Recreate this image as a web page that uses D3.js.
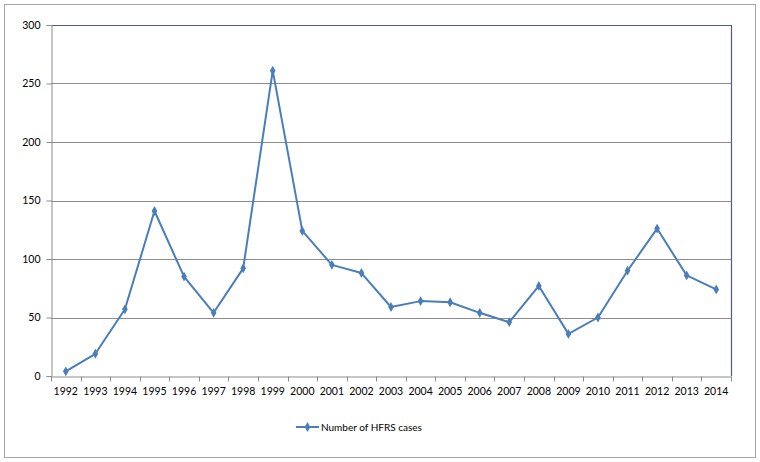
<!DOCTYPE html>
<html><head><meta charset="utf-8">
<script src="https://cdn.jsdelivr.net/npm/d3@7"></script>
<style>body{margin:0;background:#fff}svg{display:block}</style>
</head><body><div id="chart"></div>
<script>
const years = ["1992","1993","1994","1995","1996","1997","1998","1999","2000","2001","2002","2003","2004","2005","2006","2007","2008","2009","2010","2011","2012","2013","2014"];
const cases = [4,19,57,141,85,54,92,261,124,95,88,59,64,63,54,46,77,36,50,90,126,86,74];
const yTicks = [0,50,100,150,200,250,300];
const seriesName = "Number of HFRS cases";

const W=760,H=462;
const m={left:51,right:29,top:25,bottom:86};
const font="Lato, 'Open Sans', sans-serif";
const svg=d3.select("#chart").append("svg").attr("width",W).attr("height",H);
svg.append("rect").attr("x",4.5).attr("y",4.5).attr("width",751).attr("height",453)
  .attr("fill","#fff").attr("stroke","#a6a6a6").attr("stroke-width",1);

const x=d3.scaleBand().domain(years).range([m.left,W-m.right]);
const y=d3.scaleLinear().domain([0,300]).range([H-m.bottom,m.top]);

const g=svg.append("g");
g.selectAll("line.grid").data(yTicks.filter(d=>d>0&&d<300)).join("line")
  .attr("x1",m.left).attr("x2",W-m.right)
  .attr("y1",d=>Math.round(y(d))+0.5).attr("y2",d=>Math.round(y(d))+0.5)
  .attr("stroke","#8c8c8c").attr("stroke-width",1);
g.append("path")
  .attr("d",`M${m.left},${Math.round(y(300))+0.5}H${W-m.right+0.5}V${Math.round(y(0))}`)
  .attr("fill","none").attr("stroke","#4e5d80").attr("stroke-width",1.2);

const ya=svg.append("g").attr("transform",`translate(${m.left+0.5},0)`)
  .call(d3.axisLeft(y).tickValues(yTicks).tickSize(5).tickPadding(6));
ya.select(".domain").attr("stroke","#8c8c8c");
ya.selectAll(".tick line").attr("stroke","#8c8c8c");
ya.selectAll("text").attr("font-family",font).attr("font-size","10.5px").attr("fill","#000");

const xa=svg.append("g").attr("transform",`translate(0,${Math.round(y(0))+0.5})`)
  .call(d3.axisBottom(x).tickSize(0).tickPadding(11));
xa.select(".domain").attr("stroke","#8c8c8c");
xa.selectAll("text").attr("font-family",font).attr("font-size","10.5px").attr("fill","#000");
const bounds=years.map(d=>x(d)).concat([x(years[years.length-1])+x.bandwidth()]);
xa.selectAll("line.bt").data(bounds).join("line").attr("class","bt")
  .attr("x1",d=>Math.round(d)+0.5).attr("x2",d=>Math.round(d)+0.5).attr("y1",0).attr("y2",5)
  .attr("stroke","#8c8c8c");

const color="#4a7ebb";
const line=d3.line().x((d,i)=>x(years[i])+x.bandwidth()/2).y(d=>y(d));
svg.append("path").datum(cases).attr("d",line).attr("fill","none")
  .attr("stroke",color).attr("stroke-width",2).attr("stroke-linejoin","round");
const diamond=d3.symbol().type(d3.symbolDiamond).size(28);
svg.selectAll("path.pt").data(cases).join("path").attr("class","pt")
  .attr("transform",(d,i)=>`translate(${x(years[i])+x.bandwidth()/2},${y(d)})`)
  .attr("d",diamond).attr("fill",color);

const lg=svg.append("g").attr("transform","translate(296,427)");
lg.append("line").attr("x1",0).attr("x2",23).attr("y1",0).attr("y2",0).attr("stroke",color).attr("stroke-width",2);
lg.append("path").attr("transform","translate(11.5,0)").attr("d",diamond).attr("fill",color);
lg.append("text").attr("x",25).attr("y",4).text(seriesName)
  .attr("font-family",font).attr("font-size","10px").attr("fill","#000");
</script></body></html>
